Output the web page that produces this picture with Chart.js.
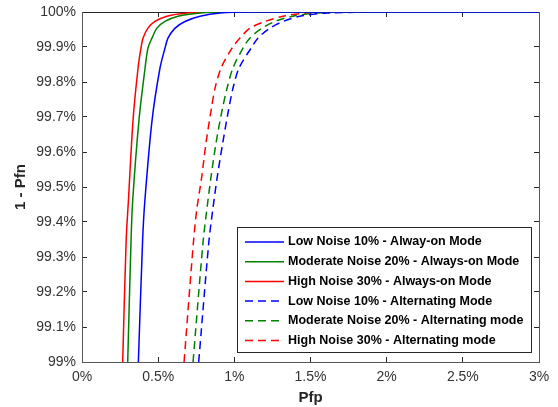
<!DOCTYPE html>
<html>
<head>
<meta charset="utf-8">
<script src="https://cdn.jsdelivr.net/npm/chart.js@4.4.1/dist/chart.umd.min.js"></script>
<style>
  html, body { margin: 0; padding: 0; background: #fff; }
  #caja { width: 558px; height: 407px; position: relative; }
</style>
</head>
<body>
<div id="caja"><canvas id="grafico"></canvas></div>
<script>
// Datos (Pfp en %, 1 - Pfn en %)
var etiquetas = [
    'Low Noise 10% - Alway-on Mode',
    'Moderate Noise 20% - Always-on Mode',
    'High Noise 30% - Always-on Mode',
    'Low Noise 10% - Alternating Mode',
    'Moderate Noise 20% - Alternating mode',
    'High Noise 30% - Alternating mode'
];
var xTicks = [0, 0.5, 1, 1.5, 2, 2.5, 3];
var yTicks = [99, 99.1, 99.2, 99.3, 99.4, 99.5, 99.6, 99.7, 99.8, 99.9, 100];

// modo siempre encendido
var pfnOn = [99.0, 99.349, 99.463, 99.691, 99.84, 99.897, 99.926, 99.954, 99.973, 99.988, 99.997, 100, 100];
var pfpBajoOn = [0.370, 0.398, 0.413, 0.460, 0.512, 0.545, 0.565, 0.611, 0.676, 0.775, 0.906, 1.1, 3];
var pfpModOn = [0.300, 0.322, 0.333, 0.374, 0.414, 0.433, 0.460, 0.492, 0.545, 0.630, 0.775, 0.95, 3];
var pfpAltoOn = [0.267, 0.290, 0.305, 0.335, 0.368, 0.387, 0.401, 0.433, 0.479, 0.558, 0.689, 0.85, 3];

// modo alternado
var pfnAlt = [99.0, 99.34, 99.434, 99.529, 99.626, 99.72, 99.782, 99.84, 99.897, 99.926, 99.954, 99.973, 99.988, 99.997, 100, 100];
var pfpBajoAlt = [0.766, 0.832, 0.858, 0.888, 0.924, 0.962, 0.991, 1.031, 1.110, 1.156, 1.234, 1.320, 1.431, 1.609, 2.0, 3];
var pfpModAlt = [0.729, 0.794, 0.819, 0.847, 0.880, 0.920, 0.952, 0.991, 1.057, 1.103, 1.182, 1.267, 1.385, 1.543, 1.85, 3];
var pfpAltoAlt = [0.670, 0.731, 0.753, 0.786, 0.814, 0.848, 0.873, 0.913, 0.985, 1.037, 1.103, 1.202, 1.320, 1.477, 1.75, 3];

var azul = 'rgb(0,0,255)';
var verde = 'rgb(0,128,0)';
var rojo = 'rgb(255,0,0)';
var fuente = "'Liberation Sans', Arial, sans-serif";

function puntos(xs, ys) {
    var p = [];
    for (var i = 0; i < xs.length; i++) {
        p.push({ x: xs[i], y: ys[i] });
    }
    return p;
}

function serie(label, xs, ys, color, dash) {
    return {
        label: label,
        data: puntos(xs, ys),
        borderColor: color,
        backgroundColor: color,
        borderWidth: 1.5,
        borderDash: dash,
        pointRadius: 0,
        tension: 0.3,
        fill: false
    };
}

function formatoPct(v) {
    return (Math.round(v * 10) / 10) + '%';
}

// leyenda dentro del area del grafico, abajo a la derecha
var leyendaInterna = {
    id: 'leyendaInterna',
    afterDatasetsDraw: function (chart) {
        var ctx = chart.ctx;
        var area = chart.chartArea;
        var w = 294, h = 125;
        var x0 = area.right - 8 - w;
        var y0 = area.bottom - 10 - h;
        ctx.save();
        ctx.fillStyle = '#fff';
        ctx.fillRect(x0, y0, w, h);
        ctx.strokeStyle = '#262626';
        ctx.lineWidth = 1;
        ctx.strokeRect(Math.round(x0) + 0.5, Math.round(y0) + 0.5, w, h);
        ctx.font = 'bold 12.5px ' + fuente;
        ctx.textBaseline = 'middle';
        ctx.textAlign = 'left';
        chart.data.datasets.forEach(function (ds, i) {
            var y = y0 + 15 + i * 19.7;
            ctx.strokeStyle = ds.borderColor;
            ctx.lineWidth = 1.5;
            ctx.setLineDash(ds.borderDash || []);
            ctx.beginPath();
            ctx.moveTo(x0 + 8, y);
            ctx.lineTo(x0 + 47, y);
            ctx.stroke();
            ctx.setLineDash([]);
            ctx.fillStyle = '#000';
            ctx.fillText(ds.label, x0 + 51, y);
        });
        ctx.restore();
    }
};

// marco con las marcas hacia adentro en los cuatro lados
var colorEje = '#555';
var rejilla = { drawOnChartArea: false, tickLength: -5, color: '#262626', lineWidth: 1 };

function marcasX(s) { s.ticks = xTicks.map(function (v) { return { value: v }; }); }
function marcasY(s) { s.ticks = yTicks.map(function (v) { return { value: v }; }); }
function altoFijo(h) {
    return function (s) { s.height = h; s.paddingLeft = 0; s.paddingRight = 0; };
}
function anchoFijo(w) {
    return function (s) { s.width = w; s.paddingTop = 0; s.paddingBottom = 0; };
}

new Chart(document.getElementById('grafico').getContext('2d'), {
    type: 'line',
    data: {
        datasets: [
            serie(etiquetas[0], pfpBajoOn, pfnOn, azul, []),
            serie(etiquetas[1], pfpModOn, pfnOn, verde, []),
            serie(etiquetas[2], pfpAltoOn, pfnOn, rojo, []),
            serie(etiquetas[3], pfpBajoAlt, pfnAlt, azul, [8, 5]),
            serie(etiquetas[4], pfpModAlt, pfnAlt, verde, [8, 5]),
            serie(etiquetas[5], pfpAltoAlt, pfnAlt, rojo, [8, 5])
        ]
    },
    options: {
        responsive: true,
        maintainAspectRatio: false,
        animation: false,
        layout: { padding: 0 },
        plugins: {
            legend: { display: false },
            tooltip: { enabled: false }
        },
        scales: {
            x: {
                type: 'linear',
                position: 'bottom',
                min: 0,
                max: 3,
                afterBuildTicks: marcasX,
                afterFit: altoFijo(45),
                grid: rejilla,
                border: { display: true, color: colorEje, width: 1 },
                ticks: {
                    padding: 12,
                    color: '#333',
                    font: { family: fuente, size: 14 },
                    maxRotation: 0,
                    callback: formatoPct
                },
                title: {
                    display: true,
                    text: 'Pfp',
                    color: '#262626',
                    font: { family: fuente, size: 15, weight: 'bold' },
                    padding: { top: 0, bottom: 0 }
                }
            },
            x2: {
                type: 'linear',
                position: 'top',
                min: 0,
                max: 3,
                afterBuildTicks: marcasX,
                afterFit: altoFijo(12),
                grid: rejilla,
                border: { display: true, color: '#262626', width: 1 },
                ticks: { display: false }
            },
            y: {
                type: 'linear',
                position: 'left',
                min: 99,
                max: 100,
                afterBuildTicks: marcasY,
                afterFit: anchoFijo(82),
                grid: rejilla,
                border: { display: true, color: colorEje, width: 1 },
                ticks: {
                    padding: 11,
                    color: '#333',
                    font: { family: fuente, size: 14 },
                    callback: formatoPct
                },
                title: {
                    display: true,
                    text: '1 - Pfn',
                    color: '#262626',
                    font: { family: fuente, size: 15, weight: 'bold' },
                    padding: { top: 12, bottom: 0 }
                }
            },
            y2: {
                type: 'linear',
                position: 'right',
                min: 99,
                max: 100,
                afterBuildTicks: marcasY,
                afterFit: anchoFijo(19),
                grid: rejilla,
                border: { display: true, color: colorEje, width: 1 },
                ticks: { display: false }
            }
        }
    },
    plugins: [leyendaInterna]
});
</script>
</body>
</html>
